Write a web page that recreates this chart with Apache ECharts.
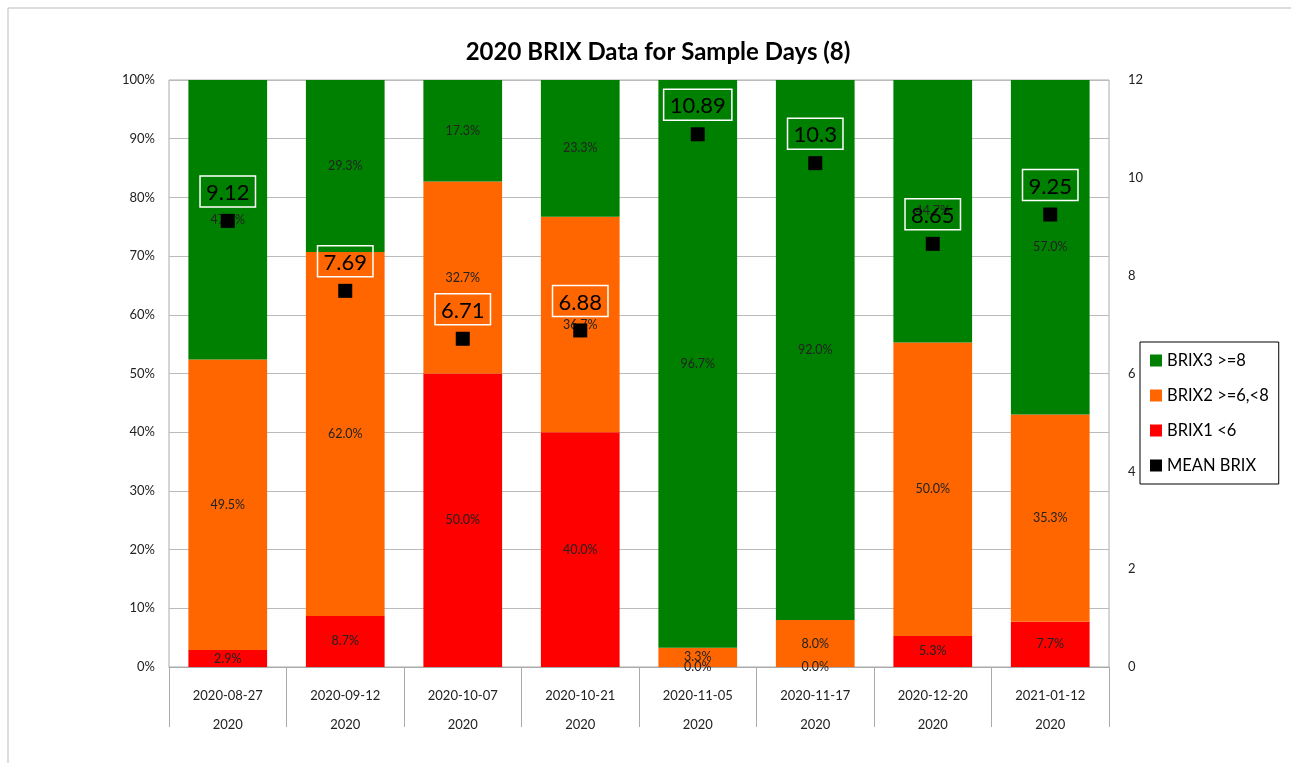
<!DOCTYPE html>
<html>
<head>
<meta charset="utf-8">
<script src="https://cdn.jsdelivr.net/npm/echarts@6/dist/echarts.min.js"></script>
<style>html,body{margin:0;padding:0;background:#fff;}#c{width:1291px;height:763px;}</style>
</head>
<body>
<div id="c"></div>
<script>
const dates = ['2020-08-27','2020-09-12','2020-10-07','2020-10-21','2020-11-05','2020-11-17','2020-12-20','2021-01-12'];
const years = ['2020','2020','2020','2020','2020','2020','2020','2020'];
const brix1 = [2.9, 8.7, 50.0, 40.0, 0.0, 0.0, 5.3, 7.7];
const brix2 = [49.5, 62.0, 32.7, 36.7, 3.3, 8.0, 50.0, 35.3];
const brix3 = [47.6, 29.3, 17.3, 23.3, 96.7, 92.0, 44.7, 57.0];
const meanBrix = [9.12, 7.69, 6.71, 6.88, 10.89, 10.3, 8.65, 9.25];
const leftTicks = [0, 100, 10];
const rightTicks = [0, 12, 2];

const FONT = 'Lato, "Liberation Sans", sans-serif';
const chart = echarts.init(document.getElementById('c'));
const barLabel = {
  show: true, position: 'inside', fontSize: 12.5, color: '#222', fontFamily: FONT,
  formatter: p => p.value.toFixed(1) + '%'
};
chart.setOption({
  animation: false,
  textStyle: { fontFamily: FONT },
  title: {
    text: '2020 BRIX Data for Sample Days (8)', left: 653, top: 35, textAlign: 'center',
    textStyle: { fontSize: 24, fontWeight: 'bold', color: '#000', fontFamily: FONT }
  },
  graphic: [{
    type: 'rect', shape: { x: 8, y: 8, width: 1300, height: 800 },
    style: { fill: 'none', stroke: '#bbb', lineWidth: 1 }, silent: true
  }],
  legend: {
    orient: 'vertical', left: 1140, top: 342, width: 146, height: 140,
    borderColor: '#000', borderWidth: 1, padding: [10, 10, 10, 10],
    itemWidth: 12, itemHeight: 12, itemGap: 18,
    textStyle: { fontSize: 16.5, color: '#000', fontFamily: FONT },
    data: [
      { name: 'BRIX3 >=8', icon: 'rect' },
      { name: 'BRIX2 >=6,<8', icon: 'rect' },
      { name: 'BRIX1 <6', icon: 'rect' },
      { name: 'MEAN BRIX', icon: 'rect' }
    ]
  },
  grid: { left: 169, right: 182, top: 80, bottom: 96, show: true, borderColor: '#aaa', borderWidth: 1 },
  xAxis: {
    type: 'category', data: dates,
    axisLine: { lineStyle: { color: '#aaa' } },
    axisTick: { show: true, length: 60, interval: 0, lineStyle: { color: '#aaa' } },
    axisLabel: {
      interval: 0, margin: 14,
      formatter: (v, i) => '{a|' + v + '}\n{b|' + years[i] + '}',
      rich: {
        a: { fontSize: 13, color: '#222', lineHeight: 29, fontFamily: FONT },
        b: { fontSize: 13, color: '#222', lineHeight: 29, fontFamily: FONT }
      }
    }
  },
  yAxis: [{
    type: 'value', min: leftTicks[0], max: leftTicks[1], interval: leftTicks[2],
    axisLabel: { formatter: '{value}%', fontSize: 13, color: '#222', margin: 14 },
    axisLine: { show: false }, axisTick: { show: false },
    splitLine: { lineStyle: { color: '#bbb' } }
  }, {
    type: 'value', min: rightTicks[0], max: rightTicks[1], interval: rightTicks[2],
    axisLabel: { fontSize: 13, color: '#222', margin: 19 },
    axisLine: { show: false }, axisTick: { show: false }, splitLine: { show: false }
  }],
  series: [
    { name: 'BRIX1 <6', type: 'bar', stack: 'b', data: brix1, barCategoryGap: '33%', itemStyle: { color: '#FF0000' }, label: barLabel },
    { name: 'BRIX2 >=6,<8', type: 'bar', stack: 'b', data: brix2, itemStyle: { color: '#FF6600' }, label: barLabel },
    { name: 'BRIX3 >=8', type: 'bar', stack: 'b', data: brix3, itemStyle: { color: '#008000' }, label: barLabel },
    {
      name: 'MEAN BRIX', type: 'scatter', yAxisIndex: 1, data: meanBrix, z: 10,
      symbol: 'rect', symbolSize: 14, itemStyle: { color: '#000', opacity: 1 },
      label: {
        show: true, position: 'top', distance: 7, fontSize: 22, color: '#000', fontFamily: FONT,
        borderColor: '#fff', borderWidth: 1.5, padding: [6, 6, 3, 6],
        formatter: p => String(p.value)
      }
    }
  ]
});
</script>
</body>
</html>
